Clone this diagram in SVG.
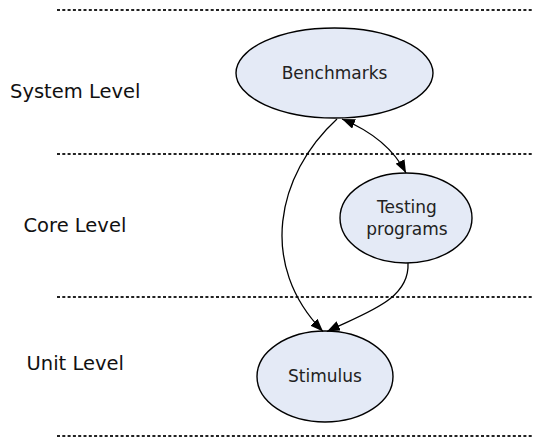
<svg xmlns="http://www.w3.org/2000/svg" width="533" height="443" viewBox="0 0 533 443">
<defs>
<style>
.lvl{stroke:#222;stroke-width:1.8;stroke-dasharray:3 2.3;fill:none}
.node ellipse{fill:#e4eaf6;stroke:#000;stroke-width:1.4}
.ntext{font-family:"DejaVu Sans",Verdana,sans-serif;font-size:17px;fill:#222;text-anchor:middle}
.ltext{font-family:"DejaVu Sans",Verdana,sans-serif;font-size:19.5px;fill:#111}
.edge{fill:none;stroke:#000;stroke-width:1.3}
</style>
<marker id="ah" viewBox="0 0 13 10" refX="13" refY="5" markerWidth="13" markerHeight="10" markerUnits="userSpaceOnUse" orient="auto-start-reverse">
<path d="M0,0 L13,5 L0,10 Z" fill="#000"/>
</marker>
</defs>
<rect width="533" height="443" fill="#fff"/>
<g id="levels">
<line class="lvl" x1="57" y1="10" x2="533" y2="10"/>
<line class="lvl" x1="57" y1="154" x2="533" y2="154"/>
<line class="lvl" x1="57" y1="297" x2="533" y2="297"/>
<line class="lvl" x1="57" y1="436" x2="533" y2="436"/>
<text class="ltext" x="10" y="97.5">System Level</text>
<text class="ltext" x="23.5" y="231.5">Core Level</text>
<text class="ltext" x="26.5" y="370">Unit Level</text>
</g>
<g id="benchmarks" class="node">
<ellipse cx="334.5" cy="73" rx="98.5" ry="45"/>
<text class="ntext" x="334.5" y="79">Benchmarks</text>
</g>
<g id="testing" class="node">
<ellipse cx="406" cy="218" rx="66" ry="45"/>
<text class="ntext" x="407" y="212.5">Testing</text>
<text class="ntext" x="407" y="235">programs</text>
</g>
<g id="stimulus" class="node">
<ellipse cx="325" cy="376.5" rx="68" ry="45.5"/>
<text class="ntext" x="325" y="382">Stimulus</text>
</g>
<g id="connectors">
<path class="edge" d="M342,119 Q388,138 406,173" marker-start="url(#ah)" marker-end="url(#ah)"/>
<path class="edge" d="M337,119 C276,175 258,265 323,331.5" marker-end="url(#ah)"/>
<path class="edge" d="M408,263 C410,300 365,313 327,331.5" marker-end="url(#ah)"/>
</g>
</svg>
